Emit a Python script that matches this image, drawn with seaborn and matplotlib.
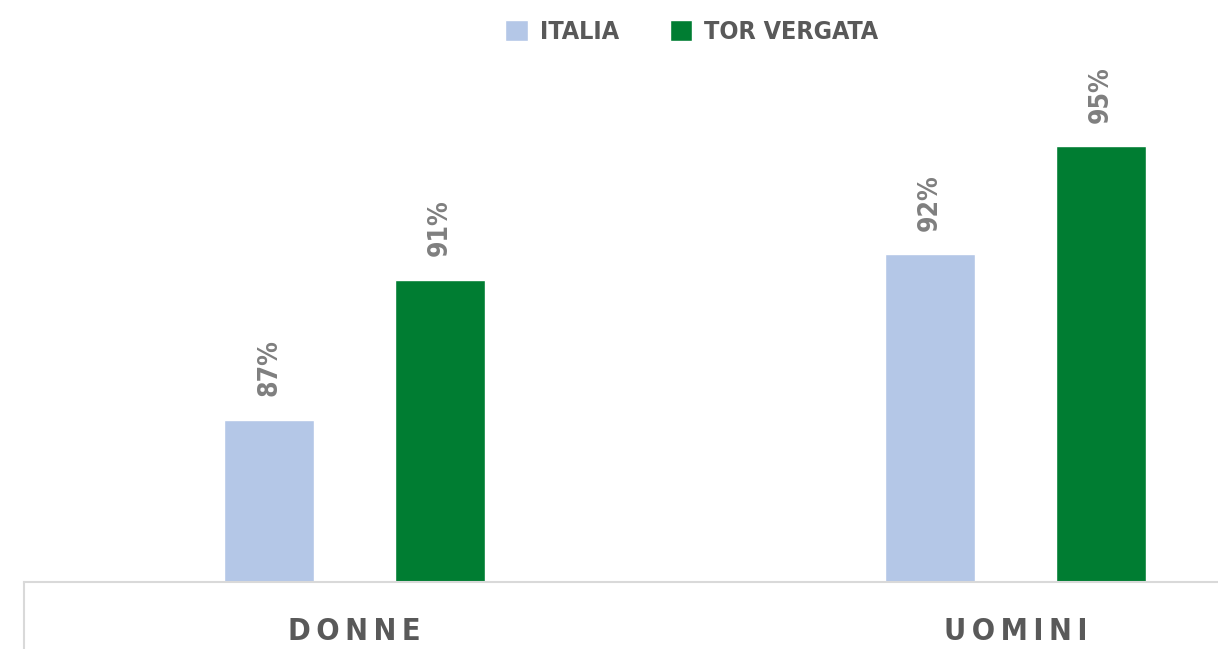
import matplotlib
matplotlib.use("Agg")
import matplotlib.pyplot as plt
import seaborn as sns
import pandas as pd

categories = ["DONNE", "UOMINI"]
series = ["Italia", "Tor Vergata"]
italia = [0.870, 0.916]
tor_vergata = [0.909, 0.946]
labels_italia = ["87%", "92%"]
labels_tv = ["91%", "95%"]

colors = {"Italia": "#B4C7E7", "Tor Vergata": "#007D32"}

rows = []
for i, c in enumerate(categories):
    rows.append({"cat": c, "serie": "Italia", "val": italia[i]})
    rows.append({"cat": c, "serie": "Tor Vergata", "val": tor_vergata[i]})
df = pd.DataFrame(rows)

sns.set_theme(style="white")
plt.rcParams['font.family'] = ['DejaVu Sans']
plt.rcParams['font.stretch'] = 'condensed'

W, H = 1218, 649
dpi = 100
fig = plt.figure(figsize=(W / dpi, H / dpi), dpi=dpi)
ax = fig.add_axes([24 / W, (H - 582) / H, (1346 - 24) / W, (582 - 60) / H])

sns.barplot(data=df, x="cat", y="val", hue="serie", palette=colors,
            width=0.516, gap=0.473, ax=ax, order=categories, hue_order=series,
            saturation=1, legend=True)

ax.set_xlim(-0.5, 1.5)
ax.set_ylim(0.825, 0.97)
ax.set_xlabel("")
ax.set_ylabel("")
ax.set_yticks([])
for s in ["top", "right", "left"]:
    ax.spines[s].set_visible(False)
ax.spines["bottom"].set_color("#D9D9D9")
ax.spines["bottom"].set_linewidth(1.5)

ax.set_xticks(range(len(categories)))
ax.set_xticklabels(["\u2009".join(c) for c in categories])
ax.tick_params(axis="x", length=0, pad=25, labelsize=22, labelcolor="#595959")
for t in ax.get_xticklabels():
    t.set_fontweight("bold")
    t.set_fontstretch("condensed")

# category separator tick at the left edge
ax.plot([-0.5, -0.5], [0, -0.2], transform=ax.get_xaxis_transform(),
        color="#D9D9D9", lw=1.5, clip_on=False)

# value labels
containers = ax.containers
for cont, labs in zip(containers, [labels_italia, labels_tv]):
    for bar, lab in zip(cont, labs):
        ax.annotate(lab, (bar.get_x() + bar.get_width() / 2, bar.get_height()),
                    xytext=(0, 17), textcoords="offset points", rotation=90,
                    ha="center", va="bottom", fontsize=19, fontweight="bold",
                    fontstretch="condensed", color="#7F7F7F")

sns.move_legend(ax, "center", bbox_to_anchor=(692 / W, 1 - 32 / H),
                bbox_transform=fig.transFigure, ncol=2, frameon=False, title=None,
                fontsize=18, handlelength=0.9, handleheight=0.9, columnspacing=2.0,
                handletextpad=0.5)
leg = ax.get_legend()
for t in leg.get_texts():
    t.set_text(t.get_text().upper())
    t.set_color("#595959")
    t.set_fontweight("bold")
    t.set_fontstretch("condensed")

fig.savefig("out.png", dpi=dpi)
